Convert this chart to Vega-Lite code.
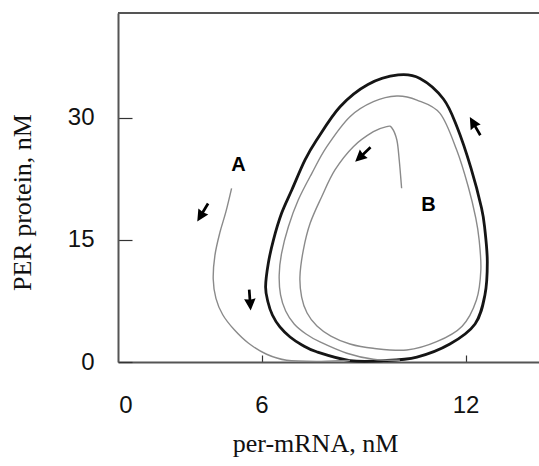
{
  "$schema": "https://vega.github.io/schema/vega-lite/v6.json",
  "width": 421,
  "height": 349,
  "autosize": {"type": "none"},
  "padding": {"left": 118, "top": 13, "right": 0, "bottom": 104},
  "background": "white",
  "config": {
    "view": {"stroke": null},
    "axis": {
      "grid": false,
      "domainColor": "#555555",
      "domainWidth": 2,
      "tickColor": "#333333",
      "tickWidth": 1.2,
      "labelFont": "Liberation Sans",
      "labelFontSize": 24,
      "labelColor": "#111111",
      "titleFont": "Liberation Serif",
      "titleFontSize": 26,
      "titleFontWeight": "normal",
      "titleColor": "#111111"
    }
  },
  "datasets": {
    "cycle": [
      {"i": 1, "x": 8.60, "y": 0.18},
      {"i": 2, "x": 9.58, "y": 0.16},
      {"i": 3, "x": 10.57, "y": 0.61},
      {"i": 4, "x": 11.54, "y": 2.21},
      {"i": 5, "x": 12.28, "y": 4.67},
      {"i": 6, "x": 12.57, "y": 8.23},
      {"i": 7, "x": 12.64, "y": 12.28},
      {"i": 8, "x": 12.57, "y": 16.21},
      {"i": 9, "x": 12.47, "y": 18.91},
      {"i": 10, "x": 12.16, "y": 23.82},
      {"i": 11, "x": 11.75, "y": 28.86},
      {"i": 12, "x": 11.35, "y": 32.30},
      {"i": 13, "x": 10.66, "y": 34.82},
      {"i": 14, "x": 10.02, "y": 35.25},
      {"i": 15, "x": 9.13, "y": 34.08},
      {"i": 16, "x": 8.31, "y": 31.35},
      {"i": 17, "x": 7.62, "y": 27.26},
      {"i": 18, "x": 7.28, "y": 24.81},
      {"i": 19, "x": 6.89, "y": 21.12},
      {"i": 20, "x": 6.59, "y": 18.26},
      {"i": 21, "x": 6.35, "y": 14.98},
      {"i": 22, "x": 6.20, "y": 12.12},
      {"i": 23, "x": 6.12, "y": 9.25},
      {"i": 24, "x": 6.19, "y": 7.37},
      {"i": 25, "x": 6.32, "y": 5.77},
      {"i": 26, "x": 6.54, "y": 4.30},
      {"i": 27, "x": 6.84, "y": 3.07},
      {"i": 28, "x": 7.19, "y": 2.09},
      {"i": 29, "x": 7.62, "y": 1.26}
    ],
    "traj": [
      {"series": "A", "i": 1, "x": 5.12, "y": 21.33},
      {"series": "A", "i": 2, "x": 4.95, "y": 18.40},
      {"series": "A", "i": 3, "x": 4.78, "y": 15.96},
      {"series": "A", "i": 4, "x": 4.63, "y": 13.10},
      {"series": "A", "i": 5, "x": 4.58, "y": 10.20},
      {"series": "A", "i": 6, "x": 4.66, "y": 7.82},
      {"series": "A", "i": 7, "x": 4.86, "y": 5.80},
      {"series": "A", "i": 8, "x": 5.20, "y": 3.95},
      {"series": "A", "i": 9, "x": 5.62, "y": 2.30},
      {"series": "A", "i": 10, "x": 6.15, "y": 0.95},
      {"series": "A", "i": 11, "x": 6.74, "y": 0.22},
      {"series": "A", "i": 12, "x": 7.72, "y": 0.08},
      {"series": "A", "i": 13, "x": 8.60, "y": 0.18},
      {"series": "B", "i": 1, "x": 10.12, "y": 21.33},
      {"series": "B", "i": 2, "x": 10.05, "y": 24.81},
      {"series": "B", "i": 3, "x": 9.98, "y": 27.26},
      {"series": "B", "i": 4, "x": 9.83, "y": 28.77},
      {"series": "B", "i": 5, "x": 9.68, "y": 28.90},
      {"series": "B", "i": 6, "x": 9.29, "y": 28.28},
      {"series": "B", "i": 7, "x": 8.70, "y": 26.44},
      {"series": "B", "i": 8, "x": 8.16, "y": 23.58},
      {"series": "B", "i": 9, "x": 7.77, "y": 20.30},
      {"series": "B", "i": 10, "x": 7.43, "y": 17.03},
      {"series": "B", "i": 11, "x": 7.23, "y": 13.75},
      {"series": "B", "i": 12, "x": 7.13, "y": 10.48},
      {"series": "B", "i": 13, "x": 7.18, "y": 7.98},
      {"series": "B", "i": 14, "x": 7.34, "y": 6.02},
      {"series": "B", "i": 15, "x": 7.63, "y": 4.42},
      {"series": "B", "i": 16, "x": 8.04, "y": 3.19},
      {"series": "B", "i": 17, "x": 8.60, "y": 2.21},
      {"series": "B", "i": 18, "x": 9.28, "y": 1.68},
      {"series": "B", "i": 19, "x": 10.27, "y": 1.47},
      {"series": "B", "i": 20, "x": 11.15, "y": 2.49},
      {"series": "B", "i": 21, "x": 11.90, "y": 4.40},
      {"series": "B", "i": 22, "x": 12.32, "y": 7.61},
      {"series": "B", "i": 23, "x": 12.45, "y": 11.30},
      {"series": "B", "i": 24, "x": 12.40, "y": 14.98},
      {"series": "B", "i": 25, "x": 12.30, "y": 17.70},
      {"series": "B", "i": 26, "x": 12.08, "y": 21.53},
      {"series": "B", "i": 27, "x": 11.74, "y": 26.03},
      {"series": "B", "i": 28, "x": 11.25, "y": 30.54},
      {"series": "B", "i": 29, "x": 10.57, "y": 32.17},
      {"series": "B", "i": 30, "x": 9.98, "y": 32.67},
      {"series": "B", "i": 31, "x": 9.29, "y": 31.97},
      {"series": "B", "i": 32, "x": 8.60, "y": 30.12},
      {"series": "B", "i": 33, "x": 7.92, "y": 26.44},
      {"series": "B", "i": 34, "x": 7.48, "y": 23.17},
      {"series": "B", "i": 35, "x": 7.08, "y": 19.89},
      {"series": "B", "i": 36, "x": 6.79, "y": 16.62},
      {"series": "B", "i": 37, "x": 6.59, "y": 13.35},
      {"series": "B", "i": 38, "x": 6.52, "y": 10.68},
      {"series": "B", "i": 39, "x": 6.56, "y": 8.23},
      {"series": "B", "i": 40, "x": 6.71, "y": 6.26},
      {"series": "B", "i": 41, "x": 6.96, "y": 4.67},
      {"series": "B", "i": 42, "x": 7.31, "y": 3.44},
      {"series": "B", "i": 43, "x": 7.72, "y": 2.46},
      {"series": "B", "i": 44, "x": 8.51, "y": 1.07},
      {"series": "B", "i": 45, "x": 9.29, "y": 0.33},
      {"series": "B", "i": 46, "x": 10.07, "y": 0.22}
    ],
    "labels": [
      {"x": 5.32, "y": 24.19, "label": "A"},
      {"x": 10.91, "y": 19.28, "label": "B"}
    ],
    "arrows": [
      {"x": 4.27, "y": 18.36, "heading": 211},
      {"x": 5.66, "y": 7.61, "heading": 176},
      {"x": 8.98, "y": 25.48, "heading": 227},
      {"x": 12.28, "y": 28.96, "heading": 330}
    ]
  },
  "layer": [
    {
      "data": {"name": "cycle"},
      "mark": {"type": "line", "interpolate": "cardinal-closed", "color": "#151515", "strokeWidth": 2.8},
      "encoding": {
        "x": {
          "field": "x", "type": "quantitative",
          "scale": {"domain": [1.78, 14.16], "nice": false, "zero": false},
          "axis": {
            "values": [2, 6, 12],
            "labelExpr": "datum.value == 2 ? '0' : datum.label",
            "tickSize": -7,
            "tickOpacity": {"condition": {"test": "datum.value == 2", "value": 0}, "value": 1},
            "labelPadding": 38,
            "labelFlush": false,
            "labelOverlap": false,
            "title": "per-mRNA, nM",
            "titleX": 197,
            "titleY": 81,
            "titleBaseline": "middle"
          }
        },
        "y": {
          "field": "y", "type": "quantitative",
          "scale": {"domain": [0, 42.86], "nice": false},
          "axis": {
            "values": [0, 15, 30],
            "tickSize": -14,
            "labelPadding": 38,
            "labelFlush": false,
            "labelOverlap": false,
            "title": "PER protein, nM",
            "titleX": -96,
            "titleY": 189,
            "titleBaseline": "middle"
          }
        },
        "order": {"field": "i", "type": "quantitative"}
      }
    },
    {
      "data": {"name": "traj"},
      "mark": {"type": "line", "interpolate": "cardinal", "color": "#8a8a8a", "strokeWidth": 1.4},
      "encoding": {
        "x": {"field": "x", "type": "quantitative"},
        "y": {"field": "y", "type": "quantitative"},
        "detail": {"field": "series", "type": "nominal"},
        "order": {"field": "i", "type": "quantitative"}
      }
    },
    {
      "data": {"name": "labels"},
      "mark": {"type": "text", "font": "Liberation Sans", "fontWeight": "bold", "fontSize": 20, "color": "#000000", "baseline": "middle", "align": "center"},
      "encoding": {
        "x": {"field": "x", "type": "quantitative"},
        "y": {"field": "y", "type": "quantitative"},
        "text": {"field": "label", "type": "nominal"}
      }
    },
    {
      "data": {"name": "arrows"},
      "mark": {"type": "point", "shape": "M0,-1L0.55,0.12L0.13,0.05L0.13,1L-0.13,1L-0.13,0.05L-0.55,0.12Z", "filled": true, "color": "#000000", "opacity": 1, "size": 441},
      "encoding": {
        "x": {"field": "x", "type": "quantitative"},
        "y": {"field": "y", "type": "quantitative"},
        "angle": {"field": "heading", "type": "quantitative", "scale": {"domain": [0, 360], "range": [0, 360]}, "legend": null}
      }
    },
    {
      "data": {"values": [{}]},
      "mark": {"type": "rule", "color": "#555555", "strokeWidth": 2},
      "encoding": {
        "y": {"datum": 42.86, "type": "quantitative"}
      }
    }
  ]
}
